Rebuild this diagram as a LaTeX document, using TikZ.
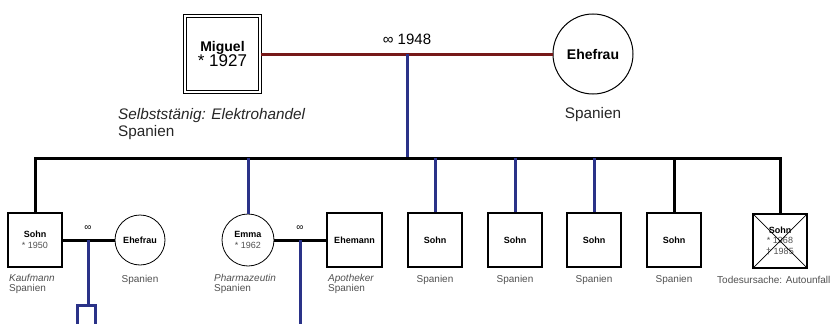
\documentclass[tikz,border=0pt]{standalone}
\usepackage{fontspec}
\setmainfont{Liberation Sans}
\usetikzlibrary{positioning,calc}
\definecolor{ehe}{HTML}{761818}
\definecolor{abst}{HTML}{2A3288}
\definecolor{grautxt}{HTML}{505050}
\newcommand{\eheZ}{∞}

\begin{document}
\begin{tikzpicture}[x=1pt,y=-1pt,
  mann/.style={draw,line width=1.2pt,minimum width=54pt,minimum height=54pt,
              inner sep=1pt,align=center,font=\fontsize{9}{10.5}\selectfont},
  frau/.style={draw,circle,line width=0.8pt,minimum size=50pt,inner sep=0pt,
              align=center,font=\fontsize{9}{10.5}\selectfont},
  lbl/.style={inner sep=0pt,align=left,text=grautxt,font=\fontsize{10}{10.5}\selectfont},
  gross/.style={inner sep=0pt,align=left,text=black!85,font=\fontsize{15.3}{17.5}\selectfont},
  heirat/.style={line width=3pt,ehe},
  linie/.style={line width=3pt,black,line cap=rect},
  kind/.style={line width=3pt,abst}]
\useasboundingbox (0,0) rectangle (833,324);
\node[draw,double,double distance=2pt,line width=1pt,minimum width=75pt,minimum height=76pt,
      inner sep=0pt,align=center] (miguel) at (222.5,54)
      {{\fontsize{14}{16}\selectfont\textbf{Miguel}}\\[-1pt]{\fontsize{17}{19}\selectfont * 1927}};
\node[draw,circle,line width=1pt,minimum size=80pt,inner sep=0pt,font=\fontsize{14}{16}\selectfont\bfseries]
      (ehefrau) at (593,54) {Ehefrau};
\draw[heirat] (miguel.east) -- (ehefrau.west);
\coordinate (ehe0) at (407,54);
\node[inner sep=0pt,font=\fontsize{15}{17}\selectfont] (jahr0) at (407,39) {\eheZ{} 1948};
\node[gross,anchor=north west] (beruf0) at (118,108) {\textit{Selbststänig: Elektrohandel}\\Spanien};
\node[gross] (land0) at (593,115) {Spanien};
\coordinate (bar) at (407,158);

\node[mann] (s1) at (35,240) {\textbf{Sohn}\\{\color{grautxt}* 1950}};
\node[frau] (f1) at (140,240) {\textbf{Ehefrau}};
\node[frau,minimum size=52pt] (emma) at (248,240) {\textbf{Emma}\\{\color{grautxt}* 1962}};
\node[mann,minimum width=55pt] (mann2) at (354.5,240) {\textbf{Ehemann}};
\node[mann] (s3) at (435,240) {\textbf{Sohn}};
\node[mann] (s4) at (515,240) {\textbf{Sohn}};
\node[mann] (s5) at (594,240) {\textbf{Sohn}};
\node[mann] (s6) at (674,240) {\textbf{Sohn}};
\node[mann] (s7) at (780,241) {\textbf{Sohn}\\{\color{grautxt}* 1968}\\{\color{grautxt}† 1985}};
\draw[line width=0.7pt] (s7.north west) -- (s7.south east) (s7.south west) -- (s7.north east);

\draw[kind] (ehe0) -- (bar);
\draw[linie] (s1.north |- bar) -- (s7.north |- bar);
\draw[linie] (s1.north |- bar) -- (s1.north);
\draw[kind] (emma.north |- bar) -- (emma.north);
\draw[kind] (s3.north |- bar) -- (s3.north);
\draw[kind] (s4.north |- bar) -- (s4.north);
\draw[kind] (s5.north |- bar) -- (s5.north);
\draw[linie] (s6.north |- bar) -- (s6.north);
\draw[linie] (s7.north |- bar) -- (s7.north);

\draw[linie,line cap=butt] (s1.east) -- (f1.west);
\coordinate (e1) at (88,240);
\node[inner sep=0pt,font=\fontsize{10}{11}\selectfont] (z1) at (88,228) {\eheZ};
\coordinate (k1) at (88,305);
\coordinate (kl) at (77,330);
\coordinate (kr) at (95,330);
\draw[kind] (e1) -- (k1);
\draw[kind] (kl) |- (k1) -| (kr);

\draw[linie,line cap=butt] (emma.east) -- (mann2.west);
\coordinate (e2) at (300,240);
\node[inner sep=0pt,font=\fontsize{10}{11}\selectfont] (z2) at (300,228) {\eheZ};
\coordinate (k2) at (300,330);
\draw[kind] (e2) -- (k2);

\node[lbl,anchor=north west] (b1) at (9,274) {\textit{Kaufmann}\\Spanien};
\node[lbl] (b2) at (140,280) {Spanien};
\node[lbl,anchor=north west] (b3) at (214,274) {\textit{Pharmazeutin}\\Spanien};
\node[lbl,anchor=north west] (b4) at (328,274) {\textit{Apotheker}\\Spanien};
\node[lbl] (b5) at (435,280) {Spanien};
\node[lbl] (b6) at (515,280) {Spanien};
\node[lbl] (b7) at (594,280) {Spanien};
\node[lbl] (b8) at (674,280) {Spanien};
\node[lbl,anchor=west] (b9) at (717,280) {Todesursache: Autounfall};
\end{tikzpicture}
\end{document}
